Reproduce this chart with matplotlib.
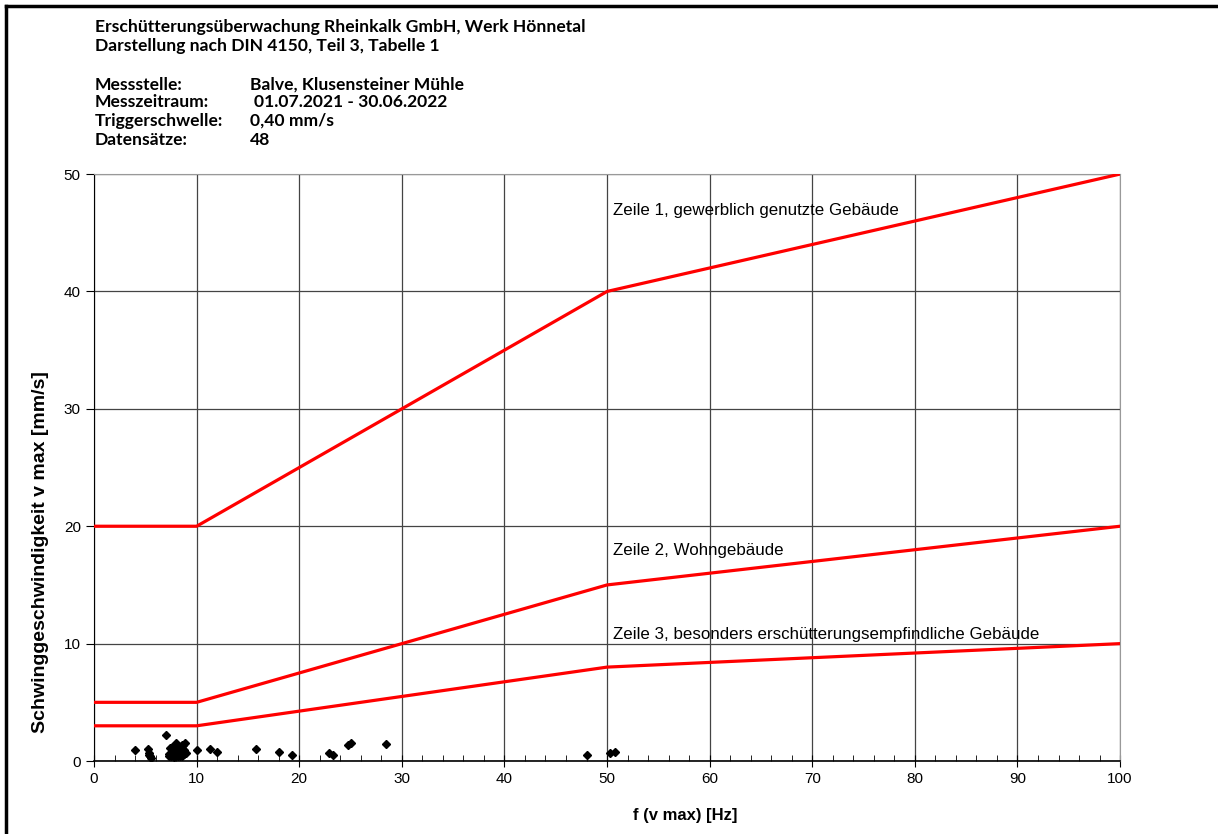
import matplotlib.pyplot as plt
from matplotlib.lines import Line2D

# Grenzwertkurven nach DIN 4150-3, Tabelle 1
freq_limits = [0, 10, 50, 100]
zeile1 = [20, 20, 40, 50]
zeile2 = [5, 5, 15, 20]
zeile3 = [3, 3, 8, 10]
labels_zeilen = ["Zeile 1, gewerblich genutzte Gebäude",
                 "Zeile 2, Wohngebäude",
                 "Zeile 3, besonders erschütterungsempfindliche Gebäude"]

f_mess = [4.0, 5.3, 5.4, 5.5, 5.6, 7.0, 7.4, 7.6, 7.3, 7.5,
          7.7, 7.8, 8.0, 8.0, 8.2, 8.3, 8.4, 8.5, 8.7, 8.8,
          8.9, 8.6, 7.9, 8.1, 10.0, 11.3, 12.0, 15.8, 18.0, 19.3,
          22.9, 23.3, 24.8, 25.0, 28.5, 48.0, 50.3, 50.8,
          7.5, 7.9, 8.2, 8.8, 9.0, 7.6, 8.4, 5.4, 8.6, 7.3]
v_mess = [0.9, 1.0, 0.65, 0.4, 0.3, 2.2, 1.1, 1.2, 0.4, 0.6,
          0.55, 0.35, 1.5, 0.4, 0.8, 0.9, 0.4, 0.6, 1.35, 0.6,
          1.5, 0.45, 0.7, 1.0, 0.95, 1.0, 0.8, 1.05, 0.75, 0.55,
          0.7, 0.5, 1.35, 1.5, 1.45, 0.55, 0.65, 0.75,
          0.45, 0.5, 0.45, 0.9, 0.7, 0.9, 1.1, 0.5, 1.4, 0.6]

plt.rcParams['font.family'] = ['Liberation Sans', 'DejaVu Sans']

fig = plt.figure(figsize=(12.18, 8.34), dpi=100)
ax = fig.add_axes([0.0772, 0.0875, 0.8424, 0.7038])

for y in (zeile1, zeile2, zeile3):
    ax.plot(freq_limits, y, color='#ff0000', linewidth=2.3, zorder=3)

ax.plot(f_mess, v_mess, linestyle='none', marker='D', markersize=4,
        color='black', zorder=4)

ax.text(50.6, 46.9, labels_zeilen[0], fontsize=12.2, va='center')
ax.text(50.6, 17.9, labels_zeilen[1], fontsize=12.2, va='center')
ax.text(50.6, 10.8, labels_zeilen[2], fontsize=12.2, va='center')

ax.set_xlim(0, 100)
ax.set_ylim(0, 50)
ax.set_xticks(range(0, 101, 10))
ax.set_xticks(range(0, 101, 2), minor=True)
ax.set_yticks(range(0, 51, 10))
ax.grid(True, which='major', color='#444444', linewidth=0.9)
ax.tick_params(axis='x', which='major', direction='inout', length=8, labelsize=11, pad=4)
ax.tick_params(axis='x', which='minor', direction='in', length=4)
ax.tick_params(axis='y', which='major', direction='out', length=6, labelsize=11)
for s in ('top', 'right'):
    ax.spines[s].set_color('#999999')
ax.spines['bottom'].set_linewidth(1.2)

ax.set_xlabel("f (v max) [Hz]", fontweight='bold', fontsize=12)
ax.xaxis.set_label_coords(0.576, -0.092)
ax.xaxis.label.set_verticalalignment('center')
ax.set_ylabel("Schwinggeschwindigkeit v max [mm/s]", fontweight='bold', fontsize=14)
ax.yaxis.set_label_coords(-0.0517, 0.356)
ax.yaxis.label.set_verticalalignment('center')

# Kopfzeilen
hdr = dict(fontsize=12.6, fontweight='bold', family=['Lato', 'DejaVu Sans'], va='center')
fig.text(95 / 1218, 1 - 27 / 834, "Erschütterungsüberwachung Rheinkalk GmbH, Werk Hönnetal", **hdr)
fig.text(95 / 1218, 1 - 46 / 834, "Darstellung nach DIN 4150, Teil 3, Tabelle 1", **hdr)
rows = [("Messstelle:", "Balve, Klusensteiner Mühle", 85, 250),
        ("Messzeitraum:", "01.07.2021 - 30.06.2022", 102, 254),
        ("Triggerschwelle:", "0,40 mm/s", 121, 250),
        ("Datensätze:", "48", 140, 250)]
for name, val, ypx, xv in rows:
    fig.text(95 / 1218, 1 - ypx / 834, name, **hdr)
    fig.text(xv / 1218, 1 - ypx / 834, val, **hdr)

# Rahmen oben und links
fig.add_artist(Line2D([6 / 1218, 6 / 1218], [0, 1 - 6 / 834], transform=fig.transFigure,
                      color='black', linewidth=2.5))
fig.add_artist(Line2D([6 / 1218, 1], [1 - 6 / 834, 1 - 6 / 834], transform=fig.transFigure,
                      color='black', linewidth=2.5))

fig.savefig("out.png", dpi=100)
